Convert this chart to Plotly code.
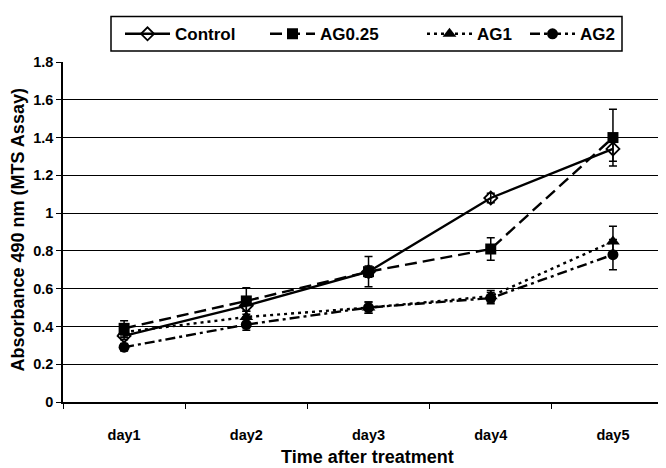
import plotly.graph_objects as go

days = ["day1", "day2", "day3", "day4", "day5"]
control = [0.35, 0.51, 0.69, 1.08, 1.34]
control_err = [0.02, 0.03, 0.03, 0.025, 0.065]
ag025 = [0.39, 0.535, 0.69, 0.81, 1.40]
ag025_err = [0.04, 0.07, 0.08, 0.06, 0.15]
ag1 = [0.37, 0.45, 0.50, 0.56, 0.85]
ag1_err = [0.03, 0.03, 0.03, 0.03, 0.08]
ag2 = [0.29, 0.41, 0.50, 0.55, 0.78]
ag2_err = [0.02, 0.03, 0.03, 0.03, 0.08]
y_ticks = [0, 0.2, 0.4, 0.6, 0.8, 1, 1.2, 1.4, 1.6, 1.8]

W, H = 666, 468
OFF = 8  # page body margin offset
# target positions in page pixels
PL, PT, PB, PR = 63, 59, 402, 666
L = PL - OFF
T = PT - OFF
B = H - (PB - OFF)
R = W - (PR - OFF)
PW, PH = W - L - R, H - T - B

def px_x(px):
    return (px - OFF - L) / PW

def px_y(py):
    return (H - B - (py - OFF)) / PH

FONT = "Liberation Sans, Arial, sans-serif"

series = [
    ("Control", control, control_err, dict(symbol="diamond-open", size=10, color="black", line=dict(width=1.8, color="black")), "solid", "legend"),
    ("AG0.25", ag025, ag025_err, dict(symbol="square", size=11, color="black"), "12px,6px", "legend2"),
    ("AG1", ag1, ag1_err, dict(symbol="triangle-up", size=12, color="black"), "3px,4px", "legend3"),
    ("AG2", ag2, ag2_err, dict(symbol="circle", size=11, color="black"), "10px,4px,3px,4px", "legend4"),
]

fig = go.Figure()
for name, vals, err, marker, dash, leg in series:
    fig.add_trace(go.Scatter(
        x=days, y=vals, name=name, mode="lines+markers",
        line=dict(color="black", width=2.4, dash=dash),
        marker=marker,
        error_y=dict(type="data", array=err, visible=True, color="black", thickness=1.5, width=4),
        legend=leg,
    ))

legend_text_x = [175, 320, 477, 580]
ITEMW = 45
leg_common = dict(orientation="h", yanchor="middle", xanchor="left",
                  font=dict(family=FONT, size=17, color="black", weight="bold"),
                  bgcolor="rgba(0,0,0,0)", borderwidth=0, itemwidth=ITEMW)
legends = {}
for i, key in enumerate(["legend", "legend2", "legend3", "legend4"]):
    x0 = legend_text_x[i] - (ITEMW + 10)
    legends[key] = dict(leg_common, x=px_x(x0), y=px_y(31))

fig.update_layout(
    width=W, height=H,
    margin=dict(l=L, r=R, t=T, b=B),
    paper_bgcolor="white", plot_bgcolor="white",
    font=dict(family=FONT, color="black"),
    showlegend=True,
    **legends,
    shapes=[dict(type="rect", xref="paper", yref="paper",
                 x0=px_x(111), x1=px_x(622), y0=px_y(48), y1=px_y(13),
                 line=dict(color="black", width=1.5), fillcolor="rgba(0,0,0,0)", layer="above")],
    annotations=[
        dict(text="Time after treatment", xref="paper", yref="paper",
             x=px_x(367), y=px_y(457), showarrow=False, xanchor="center", yanchor="middle",
             font=dict(family=FONT, size=18, color="black", weight="bold")),
        dict(text="Absorbance 490 nm (MTS Assay)", xref="paper", yref="paper",
             x=px_x(18), y=px_y(229), showarrow=False, xanchor="center", yanchor="middle",
             textangle=-90, font=dict(family=FONT, size=18, color="black", weight="bold")),
    ],
)

fig.update_xaxes(
    type="category", range=[-0.5, 4.434],
    tickson="boundaries", ticks="outside", ticklen=5, tickcolor="black", tickwidth=1.3,
    showline=True, linecolor="black", linewidth=1.5,
    showgrid=False, zeroline=False,
    tickfont=dict(family=FONT, size=14.5, color="black", weight="bold"),
    ticklabelstandoff=19,
)
fig.update_yaxes(
    range=[0, 1.8], tickvals=y_ticks, ticktext=[f"{v:g}" for v in y_ticks],
    ticks="outside", ticklen=5, tickcolor="black", tickwidth=1.3,
    showline=True, linecolor="black", linewidth=1.5,
    showgrid=True, gridcolor="black", gridwidth=1.3, zeroline=False,
    tickfont=dict(family=FONT, size=14.5, color="black", weight="bold"),
)

fig.write_html("out.html")
